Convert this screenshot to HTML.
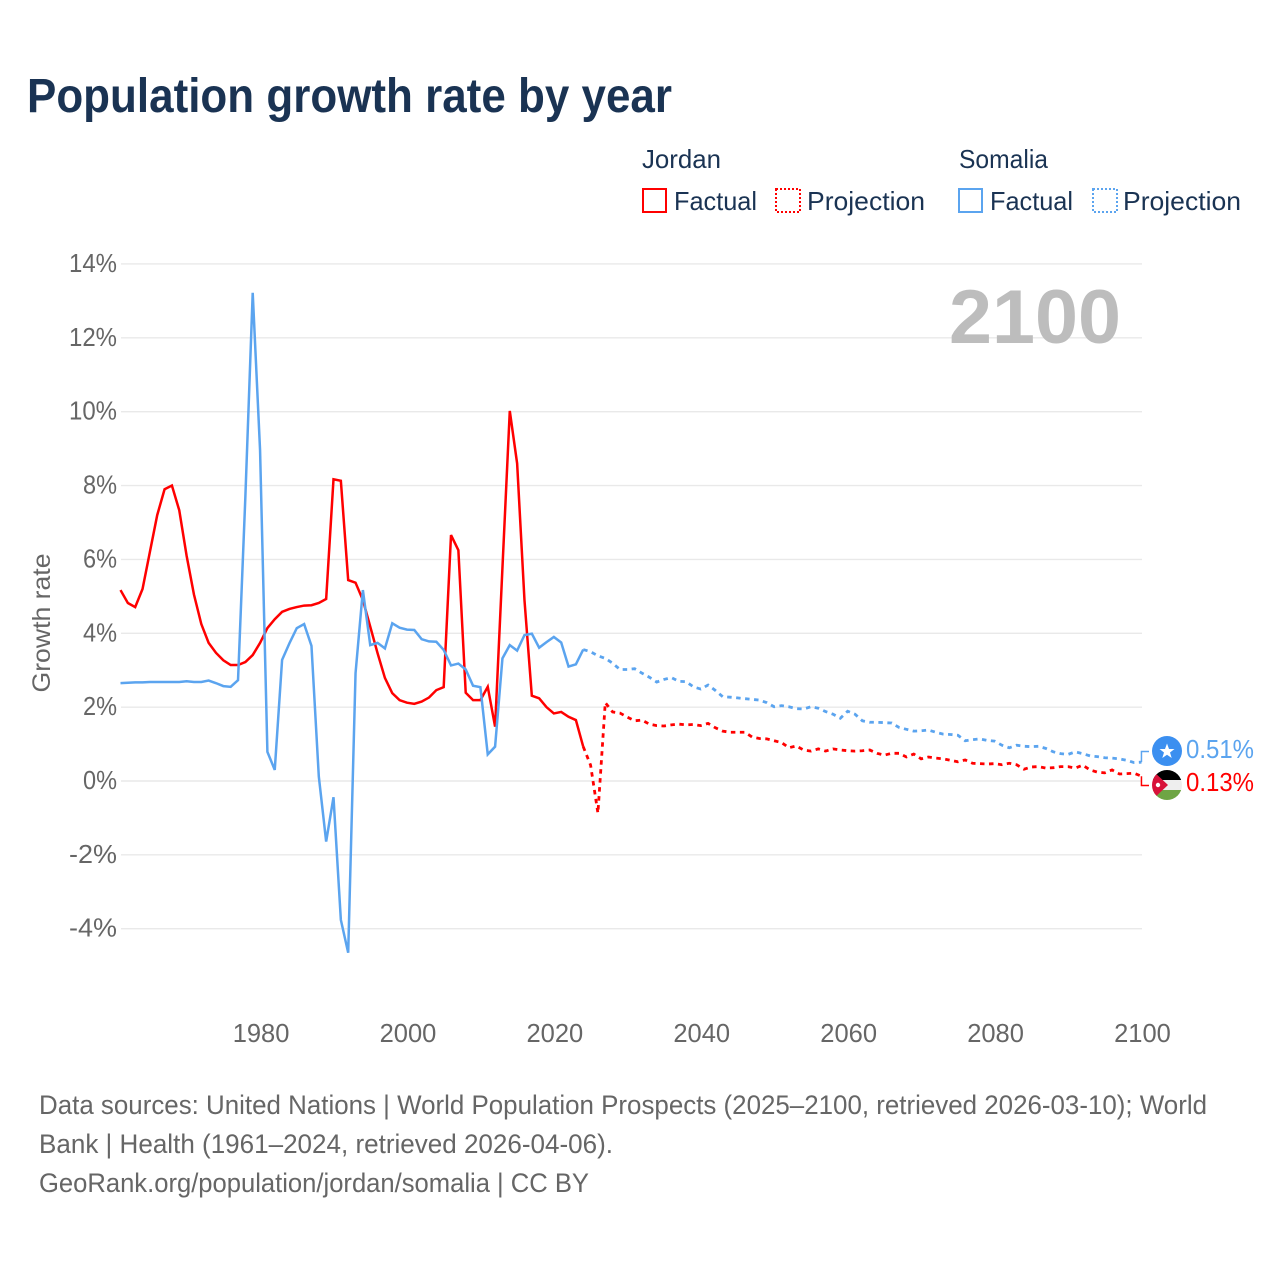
<!DOCTYPE html>
<html lang="en">
<head>
<meta charset="utf-8">
<title>Population growth rate by year</title>
<style>
html,body{margin:0;padding:0;background:#fff;}
svg{display:block;font-family:"Liberation Sans",sans-serif;}
.tick{font-size:25.5px;fill:#666;}
.legend{font-size:26px;fill:#1a3353;}
.foot{font-size:26.5px;fill:#666;}
</style>
</head>
<body>
<svg id="chart" xmlns="http://www.w3.org/2000/svg" width="1280" height="1280" viewBox="0 0 1280 1280">
  <rect x="0" y="0" width="1280" height="1280" fill="#fff"/>
  <text x="27" y="112" font-size="48" font-weight="700" fill="#1a3353" textLength="645" lengthAdjust="spacingAndGlyphs">Population growth rate by year</text>

  <g>
    <text class="legend" x="642" y="168" textLength="79" lengthAdjust="spacingAndGlyphs">Jordan</text>
    <text class="legend" x="959" y="168" textLength="89" lengthAdjust="spacingAndGlyphs">Somalia</text>
    <g>
      <rect x="643" y="189" width="23" height="23" fill="none" stroke="#ff0000" stroke-width="2"/>
      <text class="legend" x="674" y="210" textLength="83" lengthAdjust="spacingAndGlyphs">Factual</text>
    </g>
    <g>
      <rect x="776" y="189" width="24" height="23" fill="none" stroke="#ff0000" stroke-width="2" stroke-dasharray="2 2"/>
      <text class="legend" x="807" y="210" textLength="118" lengthAdjust="spacingAndGlyphs">Projection</text>
    </g>
    <g>
      <rect x="959" y="189" width="23" height="23" fill="none" stroke="#5ba4ef" stroke-width="2"/>
      <text class="legend" x="990" y="210" textLength="83" lengthAdjust="spacingAndGlyphs">Factual</text>
    </g>
    <g>
      <rect x="1093" y="189" width="24" height="23" fill="none" stroke="#5ba4ef" stroke-width="2" stroke-dasharray="2 2"/>
      <text class="legend" x="1123" y="210" textLength="118" lengthAdjust="spacingAndGlyphs">Projection</text>
    </g>
  </g>

  <g id="grid"></g>
  <g id="yticks"></g>
  <g id="xticks"></g>
  <text transform="translate(50,623) rotate(-90)" text-anchor="middle" font-size="25" fill="#666" textLength="139" lengthAdjust="spacingAndGlyphs">Growth rate</text>
  <text x="949" y="343" font-size="76" font-weight="700" fill="#bdbdbd" textLength="172" lengthAdjust="spacingAndGlyphs">2100</text>
  <g id="series"></g>

  <g>
    <polyline id="conn-somalia" fill="none" stroke="#5ba4ef" stroke-width="1.5"/>
    <polyline id="conn-jordan" fill="none" stroke="#ff0000" stroke-width="1.5"/>
    <g>
      <circle cx="1167" cy="751" r="15" fill="#3b8ff0"/>
      <polygon fill="#fff" points="1167,743.5 1169,749 1174.5,749 1170,752.5 1171.7,758 1167,754.7 1162.3,758 1164,752.5 1159.5,749 1165,749"/>
    </g>
    <g>
      <clipPath id="jo-clip"><circle cx="1167" cy="785" r="15"/></clipPath>
      <g clip-path="url(#jo-clip)">
        <rect x="1152" y="770" width="30" height="10" fill="#000"/>
        <rect x="1152" y="780" width="30" height="10" fill="#eeeeee"/>
        <rect x="1152" y="790" width="30" height="10" fill="#6ea544"/>
        <polygon points="1152,770 1168,785 1152,800" fill="#d8123a"/>
        <circle cx="1158" cy="785" r="2.2" fill="#fff"/>
      </g>
    </g>
    <text id="label-somalia" x="1186" y="758" font-size="26" fill="#5ba4ef" textLength="68" lengthAdjust="spacingAndGlyphs"></text>
    <text id="label-jordan" x="1186" y="791" font-size="26" fill="#ff0000" textLength="68" lengthAdjust="spacingAndGlyphs"></text>
  </g>

  <g>
    <text class="foot" x="39" y="1114" textLength="1168" lengthAdjust="spacingAndGlyphs">Data sources: United Nations | World Population Prospects (2025–2100, retrieved 2026-03-10); World</text>
    <text class="foot" x="39" y="1153" textLength="574" lengthAdjust="spacingAndGlyphs">Bank | Health (1961–2024, retrieved 2026-04-06).</text>
    <text class="foot" x="39" y="1192" textLength="550" lengthAdjust="spacingAndGlyphs">GeoRank.org/population/jordan/somalia | CC BY</text>
  </g>
</svg>
<script>
var firstYear = 1961;
var lastFactualYear = 2024;
var yTickValues = [14, 12, 10, 8, 6, 4, 2, 0, -2, -4];
var xTickYears = [1980, 2000, 2020, 2040, 2060, 2080, 2100];

// Growth rate (%) per year, 1961..2100; factual through 2024, projection afterwards
var jordanValues = [
  5.17, 4.82, 4.71, 5.2, 6.2, 7.2, 7.9, 8.0, 7.33, 6.1,
  5.05, 4.25, 3.74, 3.47, 3.27, 3.14, 3.14, 3.22, 3.41, 3.74,
  4.14, 4.38, 4.58, 4.66, 4.71, 4.75, 4.76, 4.82, 4.93, 8.17,
  8.13, 5.44, 5.37, 4.9, 4.18, 3.46, 2.79, 2.38, 2.19, 2.12,
  2.09, 2.15, 2.26, 2.46, 2.54, 6.66, 6.25, 2.39, 2.19, 2.19,
  2.55, 1.47, 5.77, 10.02, 8.6, 4.9, 2.31, 2.24, 2.0, 1.83,
  1.87, 1.74, 1.65, 0.93, 0.43, -0.87, 2.12, 1.87, 1.84, 1.73,
  1.63, 1.65, 1.54, 1.5, 1.49, 1.52, 1.54, 1.52, 1.53, 1.5,
  1.56, 1.44, 1.35, 1.32, 1.32, 1.32, 1.19, 1.15, 1.14, 1.09,
  1.04, 0.9, 0.95, 0.84, 0.81, 0.87, 0.81, 0.87, 0.84, 0.82,
  0.81, 0.82, 0.84, 0.75, 0.7, 0.75, 0.75, 0.65, 0.73, 0.6,
  0.65, 0.62, 0.6, 0.56, 0.52, 0.57, 0.48, 0.47, 0.46, 0.47,
  0.44, 0.48, 0.44, 0.32, 0.38, 0.39, 0.35, 0.36, 0.39, 0.39,
  0.35, 0.43, 0.3, 0.24, 0.22, 0.3, 0.19, 0.2, 0.21, 0.13
];
var somaliaValues = [
  2.65, 2.66, 2.67, 2.67, 2.68, 2.68, 2.68, 2.68, 2.68, 2.7,
  2.68, 2.68, 2.72, 2.65, 2.57, 2.55, 2.73, 7.7, 13.22, 8.96,
  0.79, 0.3, 3.28, 3.73, 4.14, 4.25, 3.66, 0.12, -1.64, -0.44,
  -3.76, -4.65, 2.92, 5.17, 3.68, 3.74, 3.59, 4.27, 4.15, 4.1,
  4.09, 3.84, 3.78, 3.77, 3.55, 3.13, 3.18, 3.02, 2.58, 2.54,
  0.72, 0.93, 3.32, 3.68, 3.53, 3.95, 3.99, 3.61, 3.76, 3.9,
  3.75, 3.1, 3.16, 3.56, 3.5, 3.39, 3.32, 3.19, 3.02, 3.02,
  3.04, 2.92, 2.81, 2.68, 2.75, 2.8, 2.7, 2.69, 2.55, 2.49,
  2.6, 2.45, 2.28, 2.27, 2.25, 2.23, 2.21, 2.19, 2.12, 2.01,
  2.04, 2.01, 1.96, 1.95, 2.01, 1.97, 1.88, 1.81, 1.7, 1.89,
  1.81, 1.63, 1.59, 1.59, 1.58, 1.57, 1.45, 1.4, 1.35, 1.36,
  1.38, 1.32, 1.27, 1.26, 1.24, 1.09, 1.12, 1.14, 1.1, 1.08,
  0.97, 0.9, 0.97, 0.94, 0.93, 0.94, 0.88, 0.79, 0.74, 0.72,
  0.79, 0.74, 0.68, 0.66, 0.63, 0.62, 0.6, 0.56, 0.5, 0.51
];
var jordanEndLabel = "0.13%";
var somaliaEndLabel = "0.51%";

function xScale(year) { return 120.5 + (year - 1961) * 7.345; }
function yScale(v) { return 781 - v * 36.93; }

var NS = "http://www.w3.org/2000/svg";
function make(tag, parent) {
  var el = document.createElementNS(NS, tag);
  parent.appendChild(el);
  return el;
}
function pointsFor(values, from, to) {
  var pts = [];
  for (var i = 0; i < values.length; i++) {
    var yr = firstYear + i;
    if (yr >= from && yr <= to) {
      pts.push(xScale(yr).toFixed(2) + "," + yScale(values[i]).toFixed(2));
    }
  }
  return pts.join(" ");
}

var grid = document.getElementById("grid");
var yticks = document.getElementById("yticks");
yTickValues.forEach(function (v) {
  var line = make("line", grid);
  
  
  line.setAttribute("x1", 121);
  line.setAttribute("x2", 1142);
  line.setAttribute("y1", yScale(v));
  line.setAttribute("y2", yScale(v));
  line.setAttribute("stroke", "#e9e9e9");
  line.setAttribute("stroke-width", "1.4");
  var t = make("text", yticks);
  
  
  t.setAttribute("class", "tick");
  t.setAttribute("x", 117);
  t.setAttribute("y", yScale(v) + 8);
  t.setAttribute("text-anchor", "end");
  t.setAttribute("textLength", (String(v).length === 1 ? 34 : 48));
  t.setAttribute("lengthAdjust", "spacingAndGlyphs");
  t.textContent = v + "%";
});

var xticks = document.getElementById("xticks");
xTickYears.forEach(function (yr) {
  var t = make("text", xticks);
  
  
  t.setAttribute("class", "tick");
  t.setAttribute("x", xScale(yr) + 1);
  t.setAttribute("y", 1042);
  t.setAttribute("text-anchor", "middle");
  t.textContent = yr;
});

var seriesGroup = document.getElementById("series");
function drawSeries(values, color, name) {
  var fact = make("polyline", seriesGroup);
  
  
  fact.setAttribute("points", pointsFor(values, firstYear, lastFactualYear));
  fact.setAttribute("fill", "none");
  fact.setAttribute("stroke", color);
  fact.setAttribute("stroke-width", "2.5");
  fact.setAttribute("stroke-linejoin", "miter");
  var proj = make("polyline", seriesGroup);
  
  
  proj.setAttribute("points", pointsFor(values, lastFactualYear, 2100));
  proj.setAttribute("fill", "none");
  proj.setAttribute("stroke", color);
  proj.setAttribute("stroke-width", "2.8");
  proj.setAttribute("stroke-dasharray", "4.5 4.5");
}
drawSeries(jordanValues, "#ff0000", "jordan");
drawSeries(somaliaValues, "#5ba4ef", "somalia");

var xEnd = xScale(2100);
document.getElementById("conn-somalia").setAttribute("points",
  xEnd + "," + yScale(somaliaValues[somaliaValues.length - 1]) + " " + xEnd + ",751.5 1149,751.5");
document.getElementById("conn-jordan").setAttribute("points",
  xEnd + "," + yScale(jordanValues[jordanValues.length - 1]) + " " + xEnd + ",785.5 1149,785.5");
document.getElementById("label-somalia").textContent = somaliaEndLabel;
document.getElementById("label-jordan").textContent = jordanEndLabel;
</script>
</body>
</html>
